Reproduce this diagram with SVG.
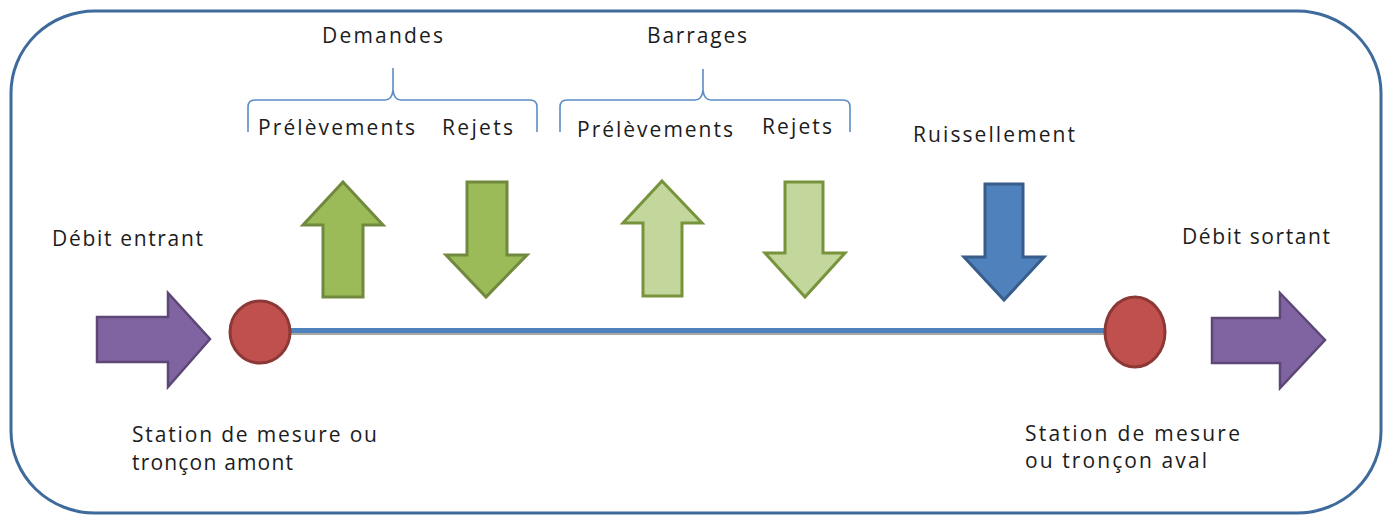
<svg xmlns="http://www.w3.org/2000/svg" width="1391" height="521" viewBox="0 0 1391 521">
  <style>
    text { font-family: "Open Sans", "Liberation Sans", sans-serif; font-size: 21px; fill: #1c1c1c; }
    .frame { fill: #ffffff; stroke: #3e6a9c; stroke-width: 3; }
    .brace { fill: none; stroke: #5b8cc6; stroke-width: 1.6; }
    .demand { fill: #9bbb59; stroke: #71893f; stroke-width: 3; stroke-linejoin: miter; }
    .dam { fill: #c3d69b; stroke: #77933c; stroke-width: 3; stroke-linejoin: miter; }
    .runoff { fill: #4f81bd; stroke: #385d8a; stroke-width: 3; stroke-linejoin: miter; }
    .flow { fill: #8064a2; stroke: #5c4776; stroke-width: 2.5; stroke-linejoin: miter; }
    .station { fill: #c0504d; stroke: #8c3836; stroke-width: 3; }
  </style>

  <!-- outer frame -->
  <rect class="frame" x="11" y="11" width="1370" height="502" rx="84" ry="82"/>

  <!-- river reach between the two stations -->
  <g id="connectors">
    <line x1="285" y1="333.5" x2="1110" y2="333.5" stroke="#a6a6a6" stroke-width="3"/>
    <line x1="285" y1="330.5" x2="1110" y2="330.5" stroke="#4f81bd" stroke-width="5"/>
  </g>

  <!-- group braces -->
  <g id="brace-demandes">
    <path class="brace" d="M248,132 V107 Q248,100 255,100 H385 Q392,100 393,90 V68 M393,90 Q394,100 401,100 H530 Q537,100 537,107 V132"/>
    <text x="322" y="43" textLength="121" lengthAdjust="spacing">Demandes</text>
  </g>
  <g id="brace-barrages">
    <path class="brace" d="M560,132 V107 Q560,100 567,100 H695 Q702,100 703,90 V69 M703,90 Q704,100 711,100 H843 Q850,100 850,107 V132"/>
    <text x="647" y="43" textLength="100" lengthAdjust="spacing">Barrages</text>
  </g>

  <!-- demand withdrawals / returns -->
  <g id="demande-prelevements">
    <text x="258" y="135" textLength="157" lengthAdjust="spacing">Prélèvements</text>
    <polygon class="demand" points="343,182 383,225 363,225 363,297 323,297 323,225 303,225"/>
  </g>
  <g id="demande-rejets">
    <text x="442" y="135" textLength="71" lengthAdjust="spacing">Rejets</text>
    <polygon class="demand" points="467,182 507,182 507,255 527,255 486,297 446,255 467,255"/>
  </g>

  <!-- dam withdrawals / returns -->
  <g id="barrage-prelevements">
    <text x="577" y="137" textLength="156" lengthAdjust="spacing">Prélèvements</text>
    <polygon class="dam" points="662,181 702,223 682,223 682,296 643,296 643,223 623,223"/>
  </g>
  <g id="barrage-rejets">
    <text x="762" y="134" textLength="70" lengthAdjust="spacing">Rejets</text>
    <polygon class="dam" points="785,182 823,182 823,253 845,253 805,297 765,253 785,253"/>
  </g>

  <!-- runoff -->
  <g id="ruissellement">
    <text x="913" y="142" textLength="162" lengthAdjust="spacing">Ruissellement</text>
    <polygon class="runoff" points="985,184 1023,184 1023,257 1044,257 1004,300 964,257 985,257"/>
  </g>

  <!-- inflow -->
  <g id="debit-entrant">
    <text x="52" y="246" textLength="151" lengthAdjust="spacing">Débit entrant</text>
    <polygon class="flow" points="97,317 168,317 168,293 210,339 168,387 168,362 97,362"/>
  </g>

  <!-- upstream station -->
  <g id="station-amont">
    <ellipse class="station" cx="260" cy="332" rx="30" ry="31"/>
    <text x="132" y="442" textLength="245" lengthAdjust="spacing">Station de mesure ou</text>
    <text x="132" y="470" textLength="161" lengthAdjust="spacing">tronçon amont</text>
  </g>

  <!-- downstream station -->
  <g id="station-aval">
    <ellipse class="station" cx="1135" cy="332" rx="30" ry="35"/>
    <text x="1025" y="441" textLength="215" lengthAdjust="spacing">Station de mesure</text>
    <text x="1025" y="468" textLength="182" lengthAdjust="spacing">ou tronçon aval</text>
  </g>

  <!-- outflow -->
  <g id="debit-sortant">
    <text x="1182" y="244" textLength="148" lengthAdjust="spacing">Débit sortant</text>
    <polygon class="flow" points="1212,318 1280,318 1280,293 1325,340 1280,388 1280,363 1212,363"/>
  </g>
</svg>
